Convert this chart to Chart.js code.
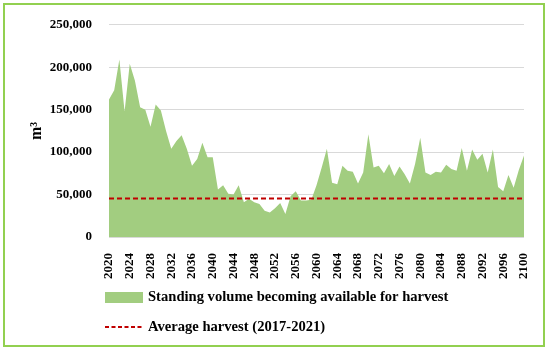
<!DOCTYPE html>
<html>
<head>
<meta charset="utf-8">
<script src="https://cdn.jsdelivr.net/npm/chart.js@4/dist/chart.umd.min.js"></script>
<style>
  html, body { margin: 0; padding: 0; background: #fff; }
  #wrap { position: relative; width: 550px; height: 351px; }
</style>
</head>
<body>
<div id="wrap"><canvas id="anaGrafik" width="550" height="351"></canvas></div>
<script>
// years 2020..2100, one value per year
const years = Array.from({ length: 81 }, (_, i) => String(2020 + i));
const volume = [
    162000, 173000, 209000, 148000, 204000, 184000, 153000, 150000, 130000, 156000,
    149000, 125000, 104000, 113000, 120000, 104000, 84000, 92000, 111000, 94000,
    94000, 56000, 61000, 51000, 50000, 61000, 41000, 45000, 41000, 39000,
    31000, 29000, 34000, 40000, 27000, 48000, 54000, 43000, 43000, 44000,
    61000, 82000, 104000, 64000, 62000, 84000, 78000, 77000, 63000, 76000,
    121000, 82000, 84000, 75000, 86000, 72000, 83000, 74000, 63000, 86000,
    117000, 76000, 73000, 77000, 76000, 85000, 80000, 78000, 105000, 78000,
    103000, 91000, 98000, 76000, 103000, 59000, 54000, 73000, 58000, 79000,
    96000
];
const avgHarvest = 45500;
const yTicks = [0, 50000, 100000, 150000, 200000, 250000];

const serif = '"Liberation Serif", "DejaVu Serif", serif';
const green = '#A2CD80';
const red = '#C00000';

// frame + legend drawn by hand (two left aligned rows)
const framePlugin = {
    id: 'frame',
    afterDraw(chart) {
        const c = chart.ctx;
        c.save();
        c.strokeStyle = '#92D050';
        c.lineWidth = 2;
        c.strokeRect(4, 4, 540, 342);

        c.font = 'bold 14.6px ' + serif;
        c.textBaseline = 'middle';
        const ds = chart.data.datasets;
        // row 1: filled box
        c.fillStyle = green;
        c.fillRect(105, 292, 38, 11);
        c.fillStyle = '#000';
        c.fillText(ds[0].label, 148, 297);
        // row 2: dashed line
        c.strokeStyle = red;
        c.lineWidth = 2;
        c.setLineDash([4, 2.5]);
        c.beginPath();
        c.moveTo(105, 327);
        c.lineTo(143, 327);
        c.stroke();
        c.setLineDash([]);
        c.fillText(ds[1].label, 148, 327);
        c.restore();
    }
};

new Chart(document.getElementById('anaGrafik'), {
    type: 'line',
    data: {
        labels: years,
        datasets: [{
            label: 'Standing volume becoming available for harvest',
            data: volume,
            backgroundColor: green,
            borderColor: green,
            borderWidth: 0,
            fill: 'origin',
            pointRadius: 0,
            tension: 0,
            order: 2
        }, {
            label: 'Average harvest (2017-2021)',
            data: [{ x: years[0], y: avgHarvest }, { x: years[years.length - 1], y: avgHarvest }],
            borderColor: red,
            borderWidth: 2,
            borderDash: [5, 3],
            fill: false,
            pointRadius: 0,
            order: 1
        }]
    },
    options: {
        responsive: false,
        animation: false,
        layout: { padding: { top: 17, right: 26, left: 0, bottom: 64 } },
        plugins: { legend: { display: false }, tooltip: { enabled: false } },
        scales: {
            x: {
                grid: { display: false },
                border: { display: false },
                afterFit(s) { s.height = 50; },
                ticks: {
                    autoSkip: false,
                    maxRotation: 90,
                    minRotation: 90,
                    padding: 8,
                    color: '#000',
                    font: { family: serif, size: 13, weight: 'bold' },
                    callback(v, i) { return i % 4 === 0 ? years[i] : null; }
                }
            },
            y: {
                min: 0,
                max: 250000,
                afterFit(s) { s.width = 109; },
                afterBuildTicks(s) { s.ticks = yTicks.map(v => ({ value: v })); },
                grid: { color: '#D9D9D9', drawTicks: false },
                border: { display: false },
                ticks: {
                    padding: 17,
                    color: '#000',
                    font: { family: serif, size: 13, weight: 'bold' },
                    callback: v => v.toLocaleString('en-US')
                },
                title: {
                    display: true,
                    text: 'm³',
                    color: '#000',
                    padding: { top: 27 },
                    font: { family: serif, size: 16, weight: 'bold' }
                }
            }
        }
    },
    plugins: [framePlugin]
});
</script>
</body>
</html>
